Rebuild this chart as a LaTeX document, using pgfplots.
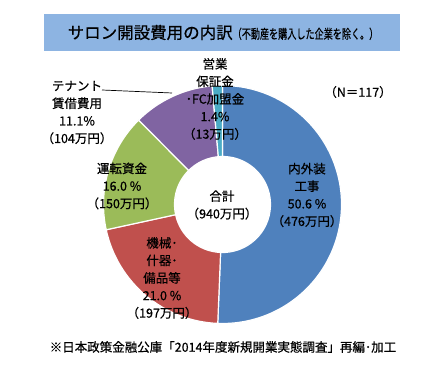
\documentclass[border=0pt]{standalone}
\usepackage{pgfplots}
\pgfplotsset{compat=1.18}
\usepackage{pgfplotstable}
\usepackage{graphicx}
\usepackage{fontspec}
\setmainfont{Noto Sans CJK JP}[FakeBold=0.6]
\definecolor{cA}{HTML}{4F81BD}
\definecolor{cB}{HTML}{C0504D}
\definecolor{cC}{HTML}{9BBB59}
\definecolor{cD}{HTML}{8064A2}
\definecolor{cE}{HTML}{4BACC6}
\definecolor{titleblue}{RGB}{141,180,226}
\pgfplotstableread{
value color
476 cA
197 cB
150 cC
104 cD
13 cE
}\piedata
\begin{document}
\begin{tikzpicture}
\begin{axis}[width=425pt,height=366pt,scale only axis,
  xmin=0,xmax=425,ymin=0,ymax=366,axis lines=none,clip=false]
\path (axis cs:0,0) rectangle (axis cs:425,366);
\fill[titleblue] (axis cs:44,315) rectangle (axis cs:400,352);
\node[anchor=center,inner sep=0pt] at (axis cs:223,333.5)
  {\fontsize{16.5}{16}\selectfont サロン開設費用の内訳\scalebox{0.7}[1]{\fontsize{13}{13}\selectfont （不動産を購入した企業を除く。）}};
\def\cum{0}
\def\tot{940}
\pgfmathsetmacro\deg{360/\tot}
\pgfplotsforeachungrouped \i in {0,...,4}{%
  \pgfplotstablegetelem{\i}{value}\of\piedata \let\sv\pgfplotsretval
  \pgfplotstablegetelem{\i}{color}\of\piedata \let\scol\pgfplotsretval
  \pgfmathsetmacro\sa{90-\deg*\cum}%
  \pgfmathsetmacro\sb{90-\deg*(\cum+\sv)}%
  \pgfmathsetmacro\sbb{\sb+180}%
  \edef\tmp{\noexpand\filldraw[fill=\scol,draw=white,line width=1.2pt] (axis cs:222.5,161.5) ++(\sa:119pt) arc[start angle=\sa,end angle=\sb,radius=119pt] -- ++(\sbb:71pt) arc[start angle=\sb,end angle=\sa,radius=48pt] -- cycle;}%
  \tmp
  \pgfmathsetmacro\cum{\cum+\sv}%
}
\draw[black,line width=0.7pt] (axis cs:102,276) -- (axis cs:172,273);
\tikzset{lab/.style={align=center,inner sep=0pt,font=\fontsize{12.5}{17.5}\selectfont}}
\node[lab] at (axis cs:215,267) {営業\\保証金\\･FC加盟金\\1.4\%\\（13万円）};
\node[lab] at (axis cs:77,253.5) {テナント\\賃借費用\\11.1\%\\（104万円）};
\node[lab] at (axis cs:122,180) {運転資金\\16.0 \%\\（150万円）};
\node[lab] at (axis cs:222,161) {合計\\（940万円）};
\node[lab] at (axis cs:307,171) {内外装\\工事\\50.6 \%\\（476万円）};
\node[lab] at (axis cs:162,88) {機械･\\什器･\\備品等\\21.0 \%\\（197万円）};
\node[lab] at (axis cs:358,274) {（N＝117）};
\node[inner sep=0pt,font=\fontsize{12.5}{14}\selectfont] at (axis cs:223,19) {※日本政策金融公庫「2014年度新規開業実態調査」再編･加工};
\end{axis}
\end{tikzpicture}
\end{document}
